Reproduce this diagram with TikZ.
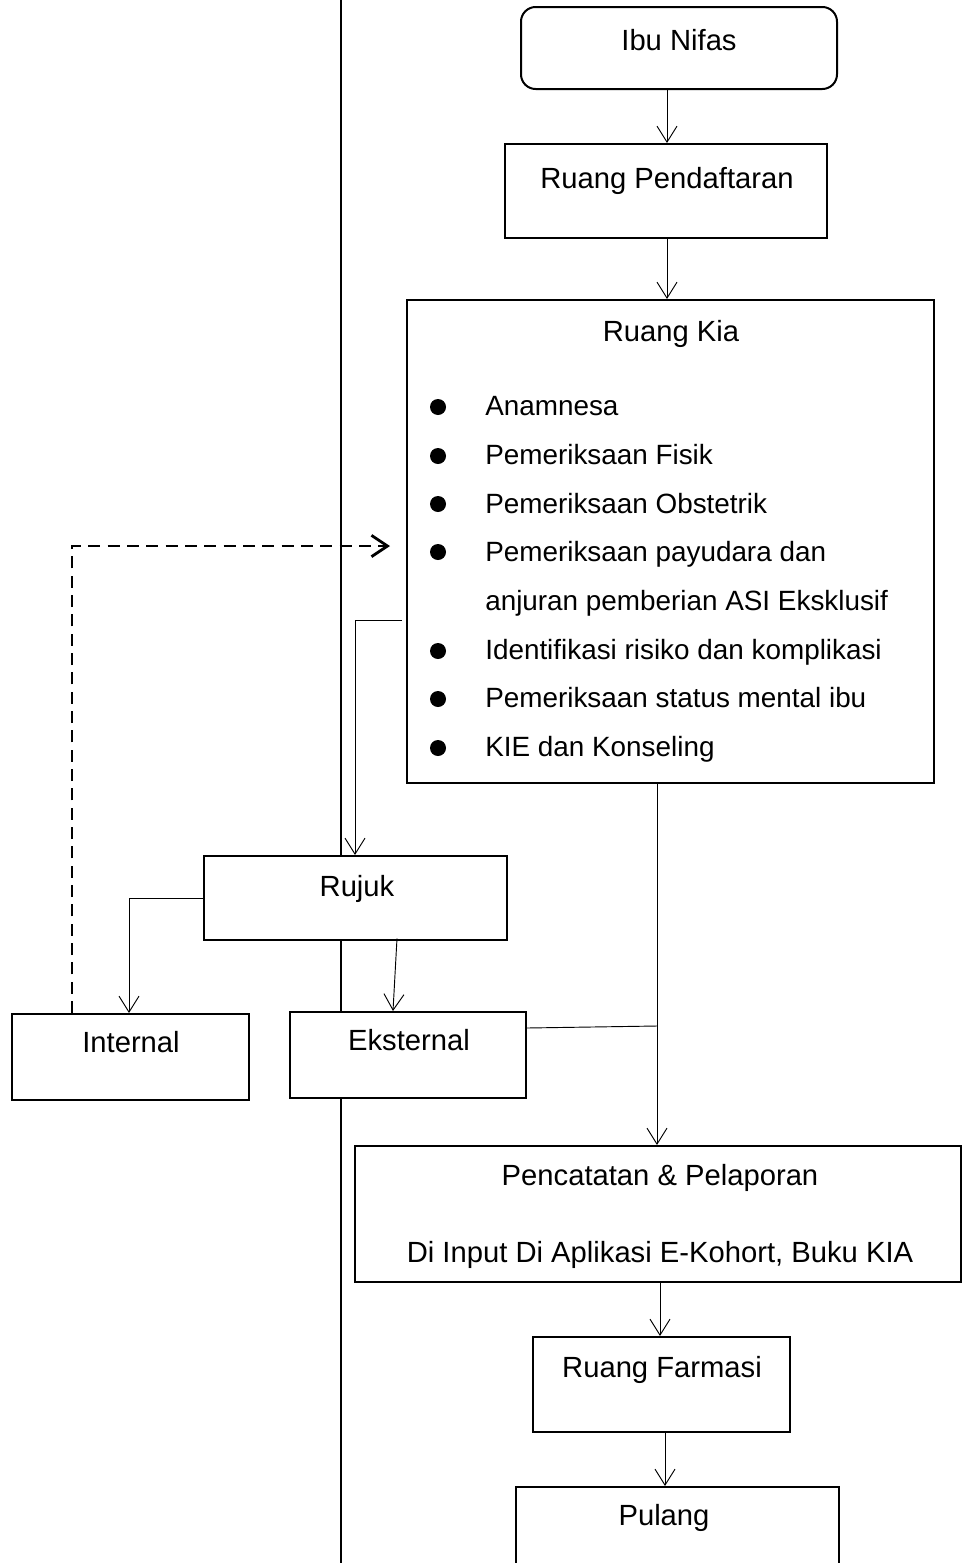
\documentclass[tikz,border=0pt]{standalone}
\usepackage{fontspec}
\setmainfont{Liberation Sans}
\usetikzlibrary{arrows.meta,fit}
\begin{document}
\begin{tikzpicture}[x=0.75pt,y=-0.75pt,
  box/.style={draw, line width=1.5pt, fill=white, inner sep=0pt, rectangle},
  txt/.style={inner sep=0pt, anchor=base, font=\fontsize{21.9pt}{26pt}\selectfont},
  ltxt/.style={inner sep=0pt, anchor=base west, font=\fontsize{20.9pt}{25pt}\selectfont},
  conn/.style={line width=0.7pt},
  arr/.style={conn, -{Straight Barb[length=12pt,width=15pt]}},
  dasharr/.style={line width=2.1pt, dash pattern=on 9pt off 5.5pt, -{Straight Barb[length=12pt,width=16pt]}},
  lane/.style={line width=1.3pt},
  dot/.style={fill=black}]
\useasboundingbox (0,0) rectangle (963,1563);
\clip (0,0) rectangle (963,1563);
\fill[white] (0,0) rectangle (963,1563);

% swimlane separator
\coordinate (laneT) at (341,0);
\coordinate (laneB) at (341,1563);
\draw[lane] (laneT) -- (laneB);

% boxes
\node[box, rounded corners=11pt, fit={(521,7) (837,89)}] (ibu) {};
\node[box, fit={(505,144) (827,238)}] (pend) {};
\node[box, fit={(407,300) (934,783)}] (kia) {};
\node[box, fit={(204,856) (507,940)}] (rujuk) {};
\node[box, fit={(12,1014) (249,1100)}] (internal) {};
\node[box, fit={(290,1012) (526,1098)}] (eksternal) {};
\node[box, fit={(355,1146) (961,1282)}] (catat) {};
\node[box, fit={(533,1337) (790,1432)}] (farmasi) {};
\node[box, fit={(516,1487) (839,1590)}] (pulang) {};

% texts
\node[txt] (ibuT) at (679,50) {Ibu Nifas};
\node[txt] (pendT) at (667,188) {Ruang Pendaftaran};
\node[txt] (kiaT) at (671,341) {Ruang Kia};
\node[ltxt] (k1) at (485,415) {Anamnesa};
\node[ltxt] (k2) at (485,464) {Pemeriksaan Fisik};
\node[ltxt] (k3) at (485,513) {Pemeriksaan Obstetrik};
\node[ltxt] (k4) at (485,561) {Pemeriksaan payudara dan};
\node[ltxt] (k5) at (485,610) {anjuran pemberian ASI Eksklusif};
\node[ltxt] (k6) at (485,659) {Identifikasi risiko dan komplikasi};
\node[ltxt] (k7) at (485,707) {Pemeriksaan status mental ibu};
\node[ltxt] (k8) at (485,756) {KIE dan Konseling};
\foreach \yy in {407,456,504,552,651,699,748}
  \fill[dot] (438,\yy) circle (6pt);
\node[txt] (rujukT) at (357,896) {Rujuk};
\node[txt] (internalT) at (131,1052) {Internal};
\node[txt] (eksternalT) at (409,1050) {Eksternal};
\node[txt] (catatT1) at (660,1185) {Pencatatan \& Pelaporan};
\node[txt] (catatT2) at (660,1262) {Di Input Di Aplikasi E-Kohort, Buku KIA};
\node[txt] (farmasiT) at (662,1377) {Ruang Farmasi};
\node[txt] (pulangT) at (664,1525) {Pulang};

% column coordinates
\coordinate (cA) at (667,0);
\coordinate (cK) at (355,0);
\coordinate (kOut) at (402,620);
\coordinate (cI) at (129,0);
\coordinate (cE1) at (397,0);
\coordinate (cE2) at (393,0);
\coordinate (cC) at (657,0);
\coordinate (jE) at (0,1028);
\coordinate (jC) at (657,1026);
\coordinate (cF) at (660,0);
\coordinate (cP) at (665,0);
\coordinate (cD) at (72,0);
\coordinate (dEnd) at (390,546);

% connectors
\draw[arr] (ibu.south -| cA) -- (pend.north -| cA);
\draw[arr] (pend.south -| cA) -- (kia.north -| cA);
\draw[arr] (kOut) -| (rujuk.north -| cK);
\draw[arr] (rujuk.west) -| (internal.north -| cI);
\draw[arr] ([yshift=2pt]rujuk.south -| cE1) -- (eksternal.north -| cE2);
\draw[arr] (kia.south -| cC) -- (catat.north -| cC);
\draw[conn] (eksternal.east |- jE) -- (jC);
\draw[arr] (catat.south -| cF) -- (farmasi.north -| cF);
\draw[arr] (farmasi.south -| cP) -- (pulang.north -| cP);
\draw[dasharr] (internal.north -| cD) |- (dEnd);
\end{tikzpicture}
\end{document}
